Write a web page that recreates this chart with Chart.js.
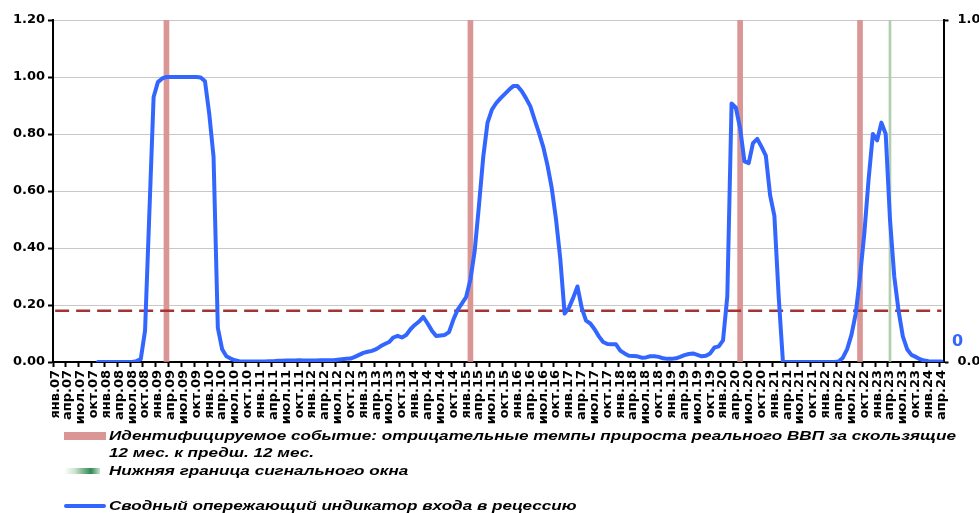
<!DOCTYPE html>
<html>
<head>
<meta charset="utf-8">
<script src="https://cdn.jsdelivr.net/npm/chart.js@4/dist/chart.umd.min.js"></script>
<style>
  html, body { margin: 0; padding: 0; background: #fff; overflow: hidden; }
  #wrap { position: relative; width: 979px; height: 513px; }
  #legend { position: absolute; left: 0; top: 0; width: 979px; height: 513px; pointer-events: none;
            font: italic bold 13px "Liberation Sans", Arial, sans-serif; color: #000; }
  .sw { position: absolute; }
  .tx { position: absolute; left: 109px; white-space: nowrap; line-height: 16px; transform-origin: 0 50%; }
</style>
</head>
<body>
<div id="wrap">
  <canvas id="chart" width="979" height="513"></canvas>
  <div id="legend">
    <div class="sw" style="left:64px;top:432px;width:42px;height:8px;background:#D99694"></div>
    <div class="tx" id="firstLine" style="top:428px">Идентифицируемое событие: отрицательные темпы прироста реального ВВП за скользящие</div>
    <div class="tx" style="top:445px">12 мес. к предш. 12 мес.</div>
    <div class="sw" style="left:64px;top:468px;width:36px;height:6px;background:linear-gradient(to right,#fff,#cfe3cf 30%,#2f8a55 75%,#cfe3cf)"></div>
    <div class="tx" style="top:463px">Нижняя граница сигнального окна</div>
    <div class="sw" style="left:64px;top:504px;width:42px;height:4px;background:#3366FF;border-radius:2px"></div>
    <div class="tx" style="top:498px">Сводный опережающий индикатор входа в рецессию</div>
  </div>
</div>
<script>
// months on the category axis: янв.07 ... апр.24
const monthNames = ["янв", "фев", "мар", "апр", "май", "июн", "июл", "авг", "сен", "окт", "ноя", "дек"];
const firstYear = 2007, lastYear = 2024, lastMonthOfLastYear = 3;

// composite leading indicator, monthly
const ind2007 = [null, null, null, null, null, null, null, null, null, null, 0, 0];
const ind2008 = [0, 0, 0, 0, 0, 0, 0, 0.003, 0.01, 0.11, 0.52, 0.93];
const ind2009 = [0.982, 0.995, 1.0, 1.0, 1.0, 1.0, 1.0, 1.0, 1.0, 1.0, 0.998, 0.985];
const ind2010 = [0.87, 0.72, 0.12, 0.045, 0.02, 0.012, 0.006, 0.003, 0.002, 0.002, 0.002, 0.002];
const ind2011 = [0.002, 0.002, 0.003, 0.003, 0.004, 0.004, 0.005, 0.005, 0.005, 0.006, 0.005, 0.005];
const ind2012 = [0.005, 0.005, 0.006, 0.006, 0.006, 0.006, 0.008, 0.01, 0.011, 0.012, 0.018, 0.025];
const ind2013 = [0.032, 0.036, 0.039, 0.045, 0.055, 0.063, 0.07, 0.086, 0.092, 0.086, 0.095, 0.115];
const ind2014 = [0.13, 0.142, 0.158, 0.135, 0.11, 0.091, 0.093, 0.095, 0.105, 0.148, 0.183, 0.205];
const ind2015 = [0.228, 0.29, 0.39, 0.55, 0.72, 0.84, 0.885, 0.908, 0.925, 0.94, 0.955, 0.968];
const ind2016 = [0.968, 0.95, 0.925, 0.897, 0.85, 0.805, 0.755, 0.69, 0.61, 0.5, 0.36, 0.17];
const ind2017 = [0.19, 0.225, 0.265, 0.19, 0.145, 0.135, 0.115, 0.09, 0.07, 0.063, 0.062, 0.062];
const ind2018 = [0.04, 0.03, 0.022, 0.021, 0.02, 0.015, 0.016, 0.02, 0.02, 0.018, 0.013, 0.011];
const ind2019 = [0.011, 0.013, 0.018, 0.024, 0.028, 0.03, 0.025, 0.02, 0.022, 0.03, 0.051, 0.055];
const ind2020 = [0.076, 0.23, 0.907, 0.892, 0.82, 0.704, 0.698, 0.768, 0.783, 0.755, 0.724, 0.585];
const ind2021 = [0.513, 0.23, 0, 0, 0, 0, 0, 0, 0, 0, 0, 0];
const ind2022 = [0, 0, 0, 0.002, 0.015, 0.045, 0.095, 0.17, 0.3, 0.45, 0.64, 0.8];
const ind2023 = [0.778, 0.84, 0.8, 0.5, 0.3, 0.18, 0.09, 0.045, 0.025, 0.018, 0.01, 0.005];
const ind2024 = [0.003, 0.002, 0.002, 0.002];

// identified events (negative real GDP growth) and lower bound of signal window
const eventMonths = ["мар.09", "фев.15", "май.20", "сен.22"];
const signalWindowMonths = ["апр.23"];
const threshold = 0.18;
const leftMax = 1.2, leftStep = 0.2;
const rightMax = 1, rightLabel = "0";

const labels = [];
for (let y = firstYear; y <= lastYear; y++) {
  for (let m = 0; m < 12; m++) {
    if (y === lastYear && m > lastMonthOfLastYear) break;
    labels.push(monthNames[m] + "." + String(y).slice(2));
  }
}
const indicator = [].concat(ind2007, ind2008, ind2009, ind2010, ind2011, ind2012, ind2013, ind2014,
  ind2015, ind2016, ind2017, ind2018, ind2019, ind2020, ind2021, ind2022, ind2023, ind2024);

const tickFont = { family: "DejaVu Sans", weight: "bold", size: 13 };

const rightLabelPlugin = {
  id: "rightLabel",
  afterDraw(chart) {
    const s = chart.scales.y1, ctx = chart.ctx;
    ctx.save();
    ctx.fillStyle = "#3366FF";
    ctx.font = "bold 16px 'DejaVu Sans'";
    ctx.textAlign = "center";
    ctx.textBaseline = "middle";
    ctx.fillText(rightLabel, s.left + 14, s.getPixelForValue(0.06));
    ctx.restore();
  }
};

new Chart(document.getElementById("chart"), {
  type: "bar",
  data: {
    labels,
    datasets: [
      { type: "line", label: "Сводный опережающий индикатор входа в рецессию", data: indicator,
        borderColor: "#3366FF", borderWidth: 4, pointRadius: 0, tension: 0,
        borderJoinStyle: "round", borderCapStyle: "round", order: 0, yAxisID: "y" },
      { type: "line", label: "threshold", data: labels.map(() => threshold),
        borderColor: "#A33434", borderWidth: 2.5, borderDash: [14, 7], pointRadius: 0, order: 1, yAxisID: "y" },
      { label: "Нижняя граница сигнального окна",
        data: labels.map(l => signalWindowMonths.includes(l) ? leftMax : null),
        backgroundColor: "#AFCFAF", barThickness: 2, grouped: false, order: 2, yAxisID: "y" },
      { label: "Идентифицируемое событие",
        data: labels.map(l => eventMonths.includes(l) ? leftMax : null),
        backgroundColor: "#D99694", barThickness: 5, grouped: false, order: 3, yAxisID: "y" }
    ]
  },
  options: {
    responsive: false,
    animation: false,
    devicePixelRatio: 1,
    layout: { padding: { top: 20, left: 0, right: 0, bottom: 0 } },
    plugins: { legend: { display: false }, tooltip: { enabled: false } },
    scales: {
      x: {
        offset: true,
        grid: { offset: true, drawOnChartArea: false, tickLength: 5, tickWidth: 2,
                tickColor: ctx => ctx.index % 3 === 0 ? "#000" : "rgba(0,0,0,0)" },
        border: { color: "#000", width: 2 },
        ticks: {
          autoSkip: false, minRotation: 90, maxRotation: 90, padding: 3, color: "#000", font: tickFont,
          callback: function (value, index) { return index % 3 === 0 ? this.getLabelForValue(value) : ""; }
        },
        afterFit: s => { s.height = 151; }
      },
      y: {
        position: "left", min: 0, max: leftMax,
        grid: { color: "#C8C8C8", lineWidth: 1, tickColor: "#000", tickLength: 5, tickWidth: 2 },
        border: { color: "#000", width: 2 },
        ticks: { stepSize: leftStep, color: "#000", font: tickFont, padding: 3, callback: v => v.toFixed(2) },
        afterFit: s => { s.width = 53; }
      },
      y1: {
        position: "right", min: 0, max: rightMax,
        grid: { drawOnChartArea: false, tickColor: "#000", tickLength: 5, tickWidth: 2 },
        border: { color: "#000", width: 2 },
        ticks: { stepSize: 1, color: "#000", font: tickFont, padding: 9, callback: v => v.toFixed(1) },
        afterFit: s => { s.width = 35.5; }
      }
    }
  },
  plugins: [rightLabelPlugin]
});

// stretch legend text horizontally like the original picture
const first = document.getElementById("firstLine");
const k = 847 / first.getBoundingClientRect().width;
document.querySelectorAll(".tx").forEach(el => { el.style.transform = "scaleX(" + k + ")"; });
</script>
</body>
</html>
